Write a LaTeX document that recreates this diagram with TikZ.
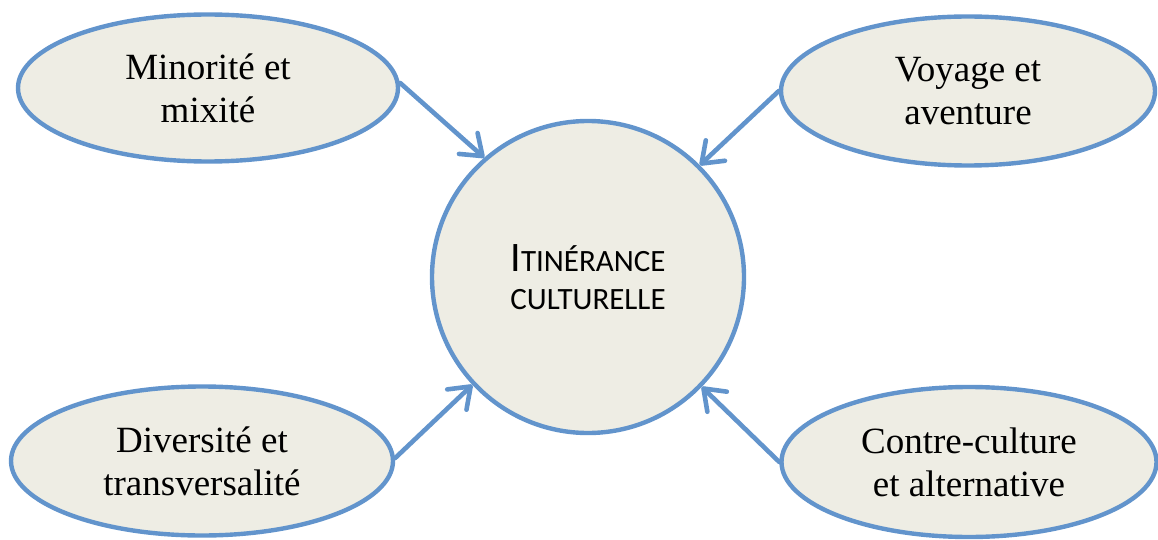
\documentclass[tikz,border=0pt]{standalone}
\usepackage{fontspec}
\setmainfont{Liberation Serif}
\newfontfamily\calib{Carlito}
\usetikzlibrary{shapes.geometric,arrows.meta}
\definecolor{edgeblue}{RGB}{98,148,204}
\definecolor{bubblefill}{RGB}{238,237,228}
\tikzset{
  bubble/.style={ellipse, draw=edgeblue, fill=bubblefill, line width=4.4pt, inner sep=0pt,
    align=center, font=\fontsize{37}{43}\selectfont},
  hub/.style={circle, draw=edgeblue, fill=bubblefill, line width=4.4pt, inner sep=0pt,
    minimum size=312pt, align=center, font=\calib\fontsize{31}{38}\selectfont},
  link/.style={draw=edgeblue, line width=4.6pt, line cap=round,
    -{Straight Barb[length=19pt,width=28pt,line width=4.6pt,round]}}
}
\begin{document}
\begin{tikzpicture}[x=1pt,y=-1pt]
\useasboundingbox (0,0) rectangle (1158,540);
\node[bubble, minimum width=380pt, minimum height=147pt] (tl) at (208,88) {Minorité et\\mixité};
\node[bubble, minimum width=374pt, minimum height=149pt] (tr) at (968,91) {Voyage et\\aventure};
\node[bubble, minimum width=382pt, minimum height=149pt] (bl) at (202,461) {Diversité et\\transversalité};
\node[bubble, minimum width=375pt, minimum height=150pt] (br) at (969,462) {Contre-culture\\et alternative};
\node[hub] (c) at (588,277) {{\fontsize{42}{38}\selectfont I}TINÉRANCE\\CULTURELLE};
\draw[link] ([yshift=5pt]tl.east) -- (c.131);
\draw[link] (tr.west) -- (c.45);
\draw[link] ([yshift=3pt]bl.east) -- (c.223);
\draw[link] (br.west) -- (c.316);
\end{tikzpicture}
\end{document}
